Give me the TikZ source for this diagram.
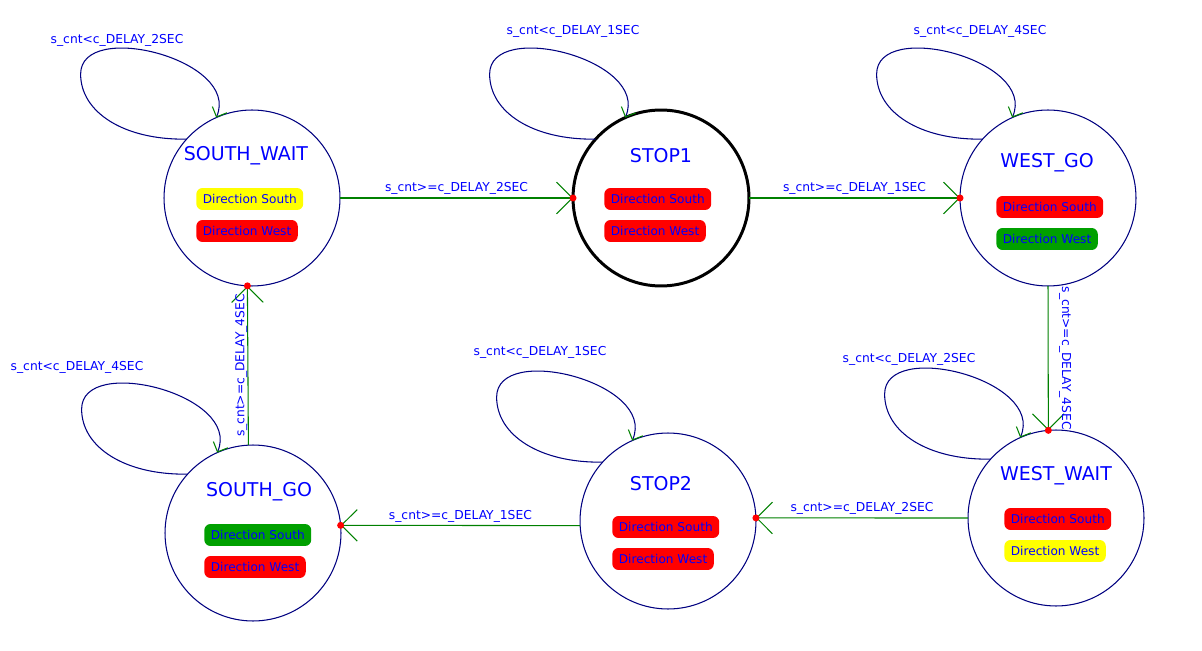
\documentclass[tikz,border=0pt]{standalone}
\usepackage{fontspec}
\setmainfont{DejaVu Sans}
\usetikzlibrary{arrows.meta}
\definecolor{textblue}{HTML}{0000FF}
\definecolor{circlenavy}{HTML}{000080}
\definecolor{transgreen}{HTML}{008000}
\definecolor{dotred}{HTML}{FF0000}
\definecolor{lampyellow}{HTML}{FFFF00}
\definecolor{lampred}{HTML}{FF0000}
\definecolor{lampgreen}{HTML}{00A000}
\newcommand{\stateloop}[1]{\draw[loopline] (#1.138) .. controls +(-63,1) and +(0,38) .. ++(-106,-65) .. controls +(0,-55) and +(25,-58) .. (#1.114);}

\begin{document}
\begin{tikzpicture}[x=0.02cm,y=-0.02cm,
   state/.style={circle, draw=circlenavy, line width=0.6pt, fill=white, minimum size=3.52cm, inner sep=0pt, outer sep=0pt},
   statename/.style={text=textblue, font=\fontsize{10.8}{13}\selectfont},
   lamp/.style={anchor=west, rounded corners=3.5pt, minimum height=12.5pt, inner xsep=3.7pt, inner ysep=0pt, text=textblue, font=\fontsize{6.9}{8}\selectfont},
   cond/.style={text=textblue, font=\fontsize{7}{8.5}\selectfont},
   trans/.style={draw=transgreen, line width=0.6pt, -{Straight Barb[length=9pt,width=18pt]}},
   loopline/.style={draw=circlenavy, line width=0.6pt, -{Straight Barb[length=4.5pt,width=9pt,color=transgreen]}}]
   \useasboundingbox (0,0) rectangle (1202,651);
   \node[state] (sw) at (252,198) {};
   \node[state, draw=black, line width=1.7pt] (st1) at (661,198) {};
   \node[state] (wg) at (1048,198) {};
   \node[state] (ww) at (1056,518) {};
   \node[state] (st2) at (668,521) {};
   \node[state] (sg) at (253,533) {};
   \node[statename] (swname) at (246,156) {SOUTH\_WAIT};
   \node[statename] (st1name) at (661,156) {STOP1};
   \node[statename] (wgname) at (1047,163) {WEST\_GO};
   \node[statename] (wwname) at (1056,476) {WEST\_WAIT};
   \node[statename] (st2name) at (661,484) {STOP2};
   \node[statename] (sgname) at (259,492) {SOUTH\_GO};
   \node[lamp, fill=lampyellow] (sws) at (196,199) {Direction South};
   \node[lamp, fill=lampred] (sww) at (196,231) {Direction West};
   \node[lamp, fill=lampred] (st1s) at (604,199) {Direction South};
   \node[lamp, fill=lampred] (st1w) at (604,231) {Direction West};
   \node[lamp, fill=lampred] (wgs) at (996,207) {Direction South};
   \node[lamp, fill=lampgreen] (wgw) at (996,239) {Direction West};
   \node[lamp, fill=lampred] (wws) at (1004,519) {Direction South};
   \node[lamp, fill=lampyellow] (www) at (1004,551) {Direction West};
   \node[lamp, fill=lampred] (st2s) at (612,527) {Direction South};
   \node[lamp, fill=lampred] (st2w) at (612,559) {Direction West};
   \node[lamp, fill=lampgreen] (sgs) at (204,535) {Direction South};
   \node[lamp, fill=lampred] (sgw) at (204,567) {Direction West};
   \stateloop{sw}
   \stateloop{st1}
   \stateloop{wg}
   \stateloop{ww}
   \stateloop{st2}
   \stateloop{sg}
   \node[cond] (swloop) at (117,40) {s\_cnt<c\_DELAY\_2SEC};
   \node[cond] (st1loop) at (573,31) {s\_cnt<c\_DELAY\_1SEC};
   \node[cond] (wgloop) at (980,31) {s\_cnt<c\_DELAY\_4SEC};
   \node[cond] (wwloop) at (909,359) {s\_cnt<c\_DELAY\_2SEC};
   \node[cond] (st2loop) at (540,352) {s\_cnt<c\_DELAY\_1SEC};
   \node[cond] (sgloop) at (77,367) {s\_cnt<c\_DELAY\_4SEC};
   \draw[trans] (sw.east) -- node[cond, midway, above, inner sep=1.5pt] {s\_cnt>=c\_DELAY\_2SEC} (st1.west);
   \draw[trans] (st1.east) -- node[cond, midway, above, inner sep=1.5pt] {s\_cnt>=c\_DELAY\_1SEC} (wg.west);
   \draw[trans] (wg.south) -- node[cond, midway, rotate=-90, anchor=south, inner ysep=6pt] {s\_cnt>=c\_DELAY\_4SEC} (ww.95);
   \draw[trans] (ww.west) -- node[cond, midway, above, inner sep=1.5pt] {s\_cnt>=c\_DELAY\_2SEC} (st2.2);
   \draw[trans] (st2.183) -- node[cond, midway, above, inner sep=1.5pt] {s\_cnt>=c\_DELAY\_1SEC} (sg.5);
   \draw[trans] (sg.93) -- node[cond, midway, rotate=90, anchor=south, inner sep=0pt] {s\_cnt>=c\_DELAY\_4SEC} (sw.267);
   \fill[dotred] (st1.west) circle (3.5);
   \fill[dotred] (wg.west) circle (3.5);
   \fill[dotred] (ww.95) circle (3.5);
   \fill[dotred] (st2.2) circle (3.5);
   \fill[dotred] (sg.5) circle (3.5);
   \fill[dotred] (sw.267) circle (3.5);
\end{tikzpicture}
\end{document}
